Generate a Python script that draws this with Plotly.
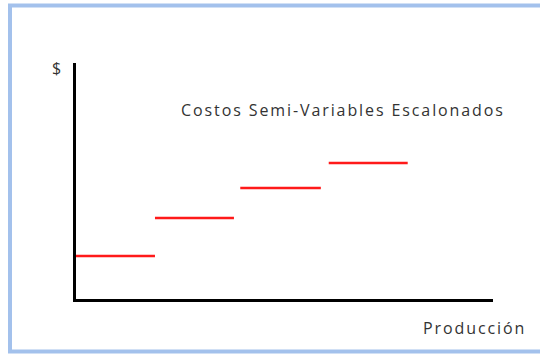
import plotly.graph_objects as go

# Step segments (production start, production end, cost level)
seg_start = [0.0, 1.0, 2.08, 3.2]
seg_end = [1.0, 2.0, 3.1, 4.2]
seg_cost = [43, 81, 111, 136]

title_text = "Costos Semi-Variables Escalonados"
y_label = "$"
x_label = "Producción"

W, H = 540, 358
L, R, T, B = 76, 47, 63, 59
pw, ph = W - L - R, H - T - B

def px(x):
    return (x - L) / pw

def py(y):
    return (H - B - y) / ph

def spaced(t):
    return '<span style="letter-spacing:1.9px">' + t + '</span>'

fig = go.Figure()
for x0, x1, c in zip(seg_start, seg_end, seg_cost):
    fig.add_trace(go.Scatter(x=[x0, x1], y=[c, c], mode="lines",
                             line=dict(color="#ff1a1a", width=2.4),
                             showlegend=False, hoverinfo="skip"))

font = "Open Sans"
fig.update_layout(
    width=W, height=H,
    margin=dict(l=L, r=R, t=T, b=B),
    paper_bgcolor="white", plot_bgcolor="white",
    showlegend=False,
    xaxis=dict(range=[0, 5.28], showgrid=False, zeroline=False, showticklabels=False,
               ticks="", showline=True, linecolor="black", linewidth=2.5),
    yaxis=dict(range=[0, 236], showgrid=False, zeroline=False, showticklabels=False,
               ticks="", showline=True, linecolor="black", linewidth=2.5),
    annotations=[
        dict(text=spaced(title_text), x=px(179), y=py(110), xref="paper", yref="paper",
             xanchor="left", yanchor="middle", showarrow=False,
             font=dict(family=font, size=16, color="#333333")),
        dict(text=spaced(y_label), x=px(57), y=py(68), xref="paper", yref="paper",
             xanchor="center", yanchor="middle", showarrow=False,
             font=dict(family=font, size=16, color="#333333")),
        dict(text=spaced(x_label), x=px(528), y=py(328), xref="paper", yref="paper",
             xanchor="right", yanchor="middle", showarrow=False,
             font=dict(family=font, size=16, color="#333333")),
    ],
    shapes=[
        dict(type="rect", xref="paper", yref="paper",
             x0=px(10), x1=px(580), y0=py(351.5), y1=py(5.5),
             line=dict(color="#a3c1ec", width=4), fillcolor="rgba(0,0,0,0)", layer="below"),
    ],
)

fig.write_html("out.html")
